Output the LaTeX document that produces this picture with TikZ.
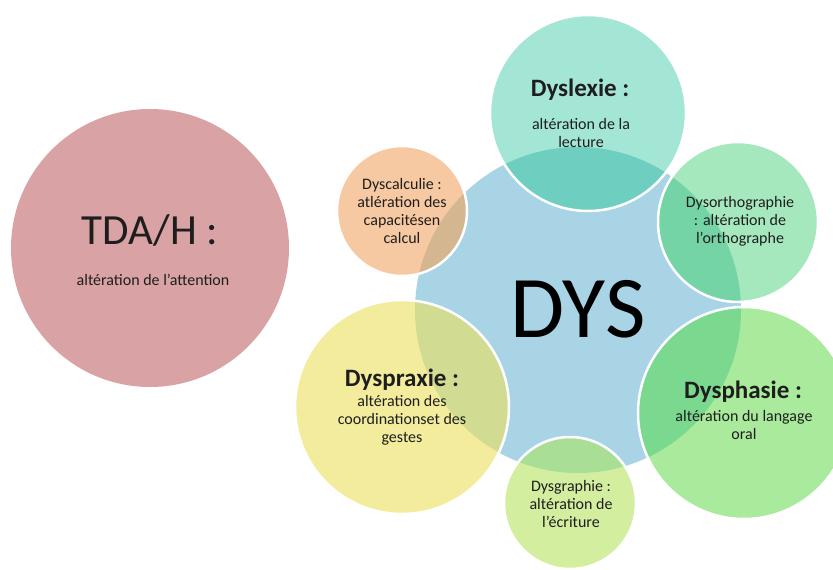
\documentclass[tikz,border=0pt]{standalone}
\usepackage{fontspec}
\setmainfont{Carlito}
\definecolor{blueC}{HTML}{A9D4E6}
\definecolor{pinkC}{HTML}{D9A3A5}
\definecolor{tealC}{HTML}{A3E6D6}
\definecolor{tealD}{HTML}{6ECFC0}
\definecolor{oranC}{HTML}{F7C9A2}
\definecolor{oranD}{HTML}{D4B690}
\definecolor{orthC}{HTML}{A6E8BE}
\definecolor{orthD}{HTML}{74D4A6}
\definecolor{yelC}{HTML}{F3EC9C}
\definecolor{yelD}{HTML}{D2DB92}
\definecolor{phaC}{HTML}{A9EA9C}
\definecolor{phaD}{HTML}{7BD88F}
\definecolor{graC}{HTML}{D4EEA0}
\definecolor{graD}{HTML}{A9DE97}
\definecolor{txt}{HTML}{1E1E1E}
\tikzset{
  ring/.style={draw=white, line width=2.5pt},
  small/.style={text=txt, align=center, font=\fontsize{16}{18}\selectfont, inner sep=0pt},
  title/.style={text=txt, align=center, font=\bfseries\fontsize{25}{27}\selectfont, inner sep=0pt}
}
\begin{document}
\begin{tikzpicture}[x=1pt,y=-1pt]
\useasboundingbox (0,0) rectangle (833,570);
% centre
\fill[blueC] (578,310) circle (163);
\coordinate (dysc) at (578,310);
% TDA/H
\fill[pinkC] (150,248) circle (139);
\coordinate (tdac) at (150,248);
% satellites: centre, radius, base, dark
\newcommand{\sat}[5]{%
  \fill[#4] (#1,#2) circle (#3);
  \begin{scope}
    \clip (dysc) circle (163);
    \fill[#5] (#1,#2) circle (#3);
  \end{scope}
  \draw[ring] (#1,#2) circle (#3);
}
\sat{588}{113}{98}{tealC}{tealD}
\sat{402}{211}{65}{oranC}{oranD}
\sat{738}{222}{80}{orthC}{orthD}
\sat{402}{407}{107}{yelC}{yelD}
\sat{744}{413}{106}{phaC}{phaD}
\sat{570}{503}{66}{graC}{graD}
% texts
\node[text=black, font=\fontsize{88}{90}\selectfont, inner sep=0pt] (dys) at (578,309) {DYS};
\node[text=txt, font=\fontsize{43}{46}\selectfont, inner sep=0pt] (tda) at (150,230) {TDA/H :};
\node[small] (tdat) at (153,280) {altération de l'attention};
\node[title] (lex) at (580,90) {Dyslexie :};
\node[small] (lext) at (581,133) {altération de la\\lecture};
\node[small] (calc) at (402,211) {Dyscalculie :\\atlération des\\capacitésen\\calcul};
\node[small] (orth) at (740,221) {Dysorthographie\\: altération de\\l'orthographe};
\node[title] (pra) at (402,380) {Dyspraxie :};
\node[small] (prat) at (402,420) {altération des\\coordinationset des\\gestes};
\node[title] (pha) at (743,392) {Dysphasie :};
\node[small] (phat) at (744,425) {altération du langage\\oral};
\node[small] (gra) at (571,504) {Dysgraphie :\\altération de\\l'écriture};
\end{tikzpicture}
\end{document}
